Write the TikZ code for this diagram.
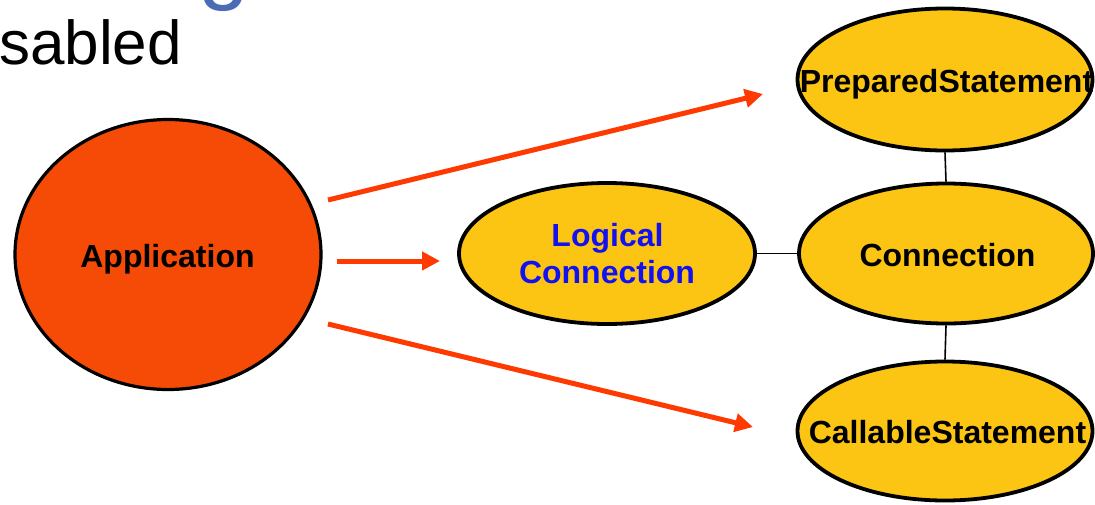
\documentclass[tikz,border=0pt]{standalone}
\usepackage{fontspec}
\setmainfont{Liberation Sans}
\usetikzlibrary{shapes.geometric,arrows.meta}
\definecolor{gold}{RGB}{252,197,20}
\definecolor{appred}{RGB}{245,75,7}
\definecolor{arrowred}{RGB}{255,58,0}
\definecolor{lcblue}{RGB}{18,18,240}
\definecolor{titleblue}{RGB}{74,107,181}
\tikzset{
  oval/.style={ellipse, draw=black, line width=3.8pt, fill=gold, inner sep=0pt},
  appoval/.style={oval, fill=appred, line width=3.2pt},
  lbl/.style={anchor=base, inner sep=0pt, font=\fontsize{32}{32}\selectfont\bfseries},
  link/.style={draw=black, line width=1.6pt},
  flow/.style={draw=arrowred, line width=5pt, -{Triangle[length=18pt,width=18pt]}},
}
\begin{document}
\begin{tikzpicture}[x=1pt,y=-1pt]
\useasboundingbox (0,0) rectangle (1095,504);
\fill[white] (0,0) rectangle (1095,504);

% heading fragments at the top left
\node[anchor=base west, inner sep=0pt, text=titleblue, font=\fontsize{92}{92}\selectfont] (gtail) at (198,-8) {g};
\node[anchor=base west, inner sep=0pt, font=\fontsize{62}{62}\selectfont] (sab) at (-1,64) {sabled};

% ovals
\node[appoval, minimum width=306pt, minimum height=270pt] (app) at (168,254.5) {};
\node[oval, minimum width=296pt, minimum height=141pt] (lc) at (607,253.5) {};
\node[oval, minimum width=295pt, minimum height=142pt] (ps) at (945,79.5) {};
\node[oval, minimum width=294pt, minimum height=140pt] (conn) at (946,253.5) {};
\node[oval, minimum width=295pt, minimum height=139pt] (cs) at (945,431) {};

% labels
\node[lbl] (appt) at (167.5,267) {Application};
\node[lbl, text=lcblue] (lct1) at (607.5,246) {Logical};
\node[lbl, text=lcblue] (lct2) at (607,283) {Connection};
\node[lbl] (pst) at (946.5,92) {PreparedStatement};
\node[lbl] (connt) at (947.5,266) {Connection};
\node[lbl] (cst) at (947.5,443) {CallableStatement};

% plain links between ovals
\draw[link] (ps.south) -- (conn.north);
\draw[link] (conn.south) -- (cs.north);
\draw[link] (lc.east) -- (conn.west);

% arrows from the application
\coordinate (t0) at (328,200);
\coordinate (t1) at (763,94);
\coordinate (m0) at (337,261);
\coordinate (m1) at (440,261);
\coordinate (b0) at (328,324);
\coordinate (b1) at (753,427);
\draw[flow] (t0) -- (t1);
\draw[flow] (m0) -- (m1);
\draw[flow] (b0) -- (b1);
\end{tikzpicture}
\end{document}
